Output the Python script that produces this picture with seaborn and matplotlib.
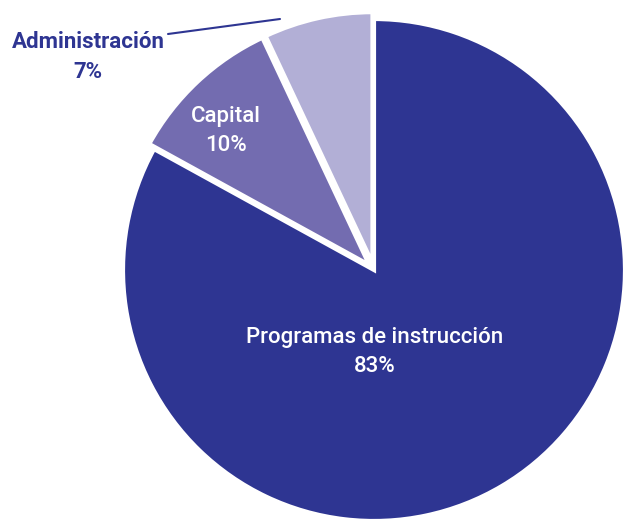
import matplotlib
matplotlib.use("Agg")
import matplotlib.pyplot as plt
import seaborn as sns

sns.set_theme(style="white")
plt.rcParams['font.family'] = ['Roboto', 'DejaVu Sans']

# datos
categorias = ['Programas de instrucción', 'Capital', 'Administración']
porcentajes = [83, 10, 7]
colores = ['#2E3592', '#736CB0', '#B2AFD6']

fig = plt.figure(figsize=(6.27, 5.27), dpi=100)
ax = fig.add_axes([0, 0, 1, 1])

wedges, _ = ax.pie(porcentajes, colors=colores, startangle=90, counterclock=False,
                   center=(374, 257), radius=251, explode=[0, 7, 7],
                   wedgeprops=dict(edgecolor='white', linewidth=3))

# pie() fija sus propios límites, se reajustan después
ax.set_xlim(0, 627)
ax.set_ylim(0, 527)
ax.set_aspect('equal')
ax.axis('off')

# etiquetas
ax.text(375, 527 - 352, f"{categorias[0]}\n{porcentajes[0]}%", color='white',
        ha='center', va='center', fontsize=16, fontweight='medium', linespacing=1.45)
ax.text(226, 527 - 131, f"{categorias[1]}\n{porcentajes[1]}%", color='white',
        ha='center', va='center', fontsize=16, fontweight='medium', linespacing=1.45)
ax.text(88, 527 - 57, f"{categorias[2]}\n{porcentajes[2]}%", color='#2E3592',
        ha='center', va='center', fontsize=16, fontweight='semibold', linespacing=1.45)
ax.plot([168, 280], [527 - 34, 527 - 19], color='#2E3592', lw=1.5)

fig.savefig('out.png', dpi=100)
